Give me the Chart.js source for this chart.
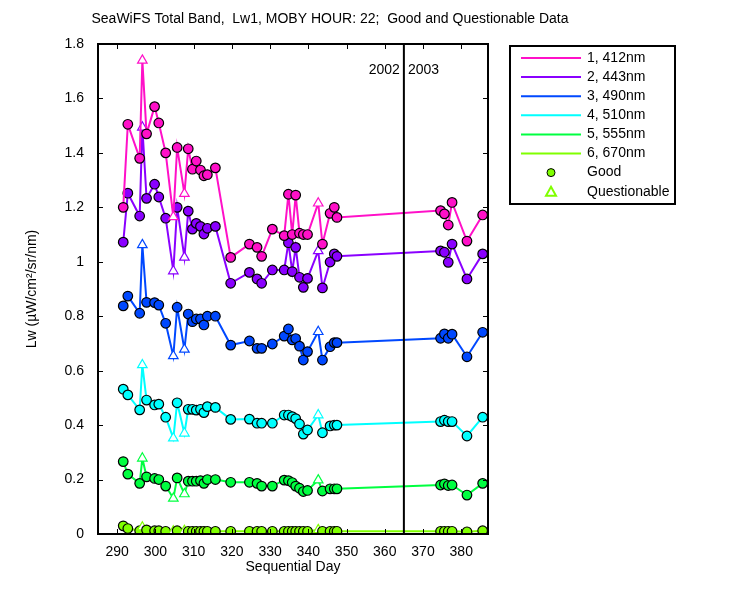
<!DOCTYPE html>
<html lang="en">
<head>
    <meta charset="UTF-8">
    <title>SeaWiFS Total Band Lw1</title>
    <script src="https://cdn.jsdelivr.net/npm/chart.js"></script>
    <style>
        body { margin: 0; background: #fff; }
        #wrap { width: 750px; height: 600px; position: relative; }
    </style>
</head>
<body>
<div id="wrap"><canvas id="lwChart"></canvas></div>
<script>
// sequential day of each sample
const days = [291.6, 292.8, 295.9, 296.6, 297.7, 299.8, 300.9, 302.7, 304.7, 305.7, 307.6, 308.6, 309.7, 310.7,
    311.8, 312.7, 313.6, 315.7, 319.7, 324.6, 326.6, 327.8, 330.6, 333.7, 334.8, 335.8, 336.7, 337.7, 338.7,
    339.8, 342.6, 343.7, 345.7, 346.8, 347.5, 374.6, 375.6, 376.6, 377.6, 381.5, 385.6];
// 1 = questionable, 0 = good
const questionable = [0, 0, 0, 1, 0, 0, 0, 0, 1, 0, 1, 0, 0, 0, 0, 0, 0, 0, 0, 0, 0, 0, 0, 0, 0, 0, 0, 0, 0,
    0, 1, 0, 0, 0, 0, 0, 0, 0, 0, 0, 0];

const lw412 = [1.20, 1.505, 1.38, 1.74, 1.47, 1.57, 1.51, 1.40, 1.165, 1.42, 1.25, 1.415, 1.34, 1.37,
    1.337, 1.316, 1.32, 1.345, 1.016, 1.065, 1.053, 1.02, 1.12, 1.096, 1.248, 1.10, 1.245, 1.105, 1.10,
    1.10, 1.215, 1.065, 1.178, 1.20, 1.163, 1.188, 1.176, 1.135, 1.218, 1.076, 1.172];
const lw443 = [1.072, 1.252, 1.168, 1.494, 1.233, 1.285, 1.238, 1.16, 0.966, 1.20, 1.016, 1.186, 1.12, 1.141,
    1.13, 1.102, 1.123, 1.13, 0.921, 0.961, 0.937, 0.921, 0.97, 0.97, 1.07, 0.964, 1.053, 0.943, 0.906,
    0.939, 1.04, 0.904, 0.999, 1.029, 1.02, 1.04, 1.035, 0.998, 1.065, 0.937, 1.029];
const lw490 = [0.838, 0.874, 0.811, 1.062, 0.851, 0.85, 0.841, 0.774, 0.654, 0.833, 0.678, 0.808, 0.78, 0.79,
    0.79, 0.768, 0.80, 0.80, 0.694, 0.709, 0.682, 0.682, 0.698, 0.727, 0.753, 0.713, 0.718, 0.69, 0.639,
    0.67, 0.743, 0.639, 0.688, 0.703, 0.703, 0.719, 0.735, 0.719, 0.734, 0.651, 0.741];
const lw510 = [0.532, 0.511, 0.456, 0.621, 0.492, 0.474, 0.477, 0.429, 0.352, 0.482, 0.37, 0.458, 0.458, 0.455,
    0.458, 0.446, 0.468, 0.465, 0.421, 0.422, 0.407, 0.407, 0.407, 0.437, 0.437, 0.431, 0.424, 0.404, 0.367,
    0.382, 0.437, 0.372, 0.397, 0.40, 0.40, 0.413, 0.418, 0.413, 0.413, 0.36, 0.429];
const lw555 = [0.266, 0.22, 0.186, 0.278, 0.21, 0.204, 0.20, 0.176, 0.131, 0.206, 0.147, 0.194, 0.194, 0.194,
    0.196, 0.186, 0.20, 0.20, 0.19, 0.19, 0.186, 0.176, 0.176, 0.198, 0.196, 0.189, 0.176, 0.168, 0.156,
    0.16, 0.198, 0.158, 0.166, 0.166, 0.166, 0.18, 0.184, 0.178, 0.18, 0.143, 0.186];
const lw670 = [0.03, 0.02, 0.012, 0.025, 0.015, 0.012, 0.012, 0.01, 0.01, 0.012, 0.012, 0.01, 0.01, 0.01,
    0.01, 0.01, 0.01, 0.01, 0.01, 0.01, 0.01, 0.01, 0.01, 0.01, 0.01, 0.01, 0.01, 0.01, 0.01,
    0.01, 0.015, 0.01, 0.01, 0.01, 0.01, 0.01, 0.01, 0.01, 0.01, 0.008, 0.012];

const bandNames = ['1, 412nm', '2, 443nm', '3, 490nm', '4, 510nm', '5, 555nm', '6, 670nm'];
const bandColors = ['#ff10c8', '#8a00ff', '#0048ff', '#00ffff', '#00ff40', '#80ff00'];
const bandValues = [lw412, lw443, lw490, lw510, lw555, lw670];
const xTicks = [290, 300, 310, 320, 330, 340, 350, 360, 370, 380];
const yTicks = [0, 0.2, 0.4, 0.6, 0.8, 1, 1.2, 1.4, 1.6, 1.8];
const yearBreak = 365;

const FONT = 'Liberation Sans, Arial, sans-serif';

const datasets = bandValues.map((vals, i) => ({
    label: bandNames[i],
    data: vals.map((v, j) => ({ x: days[j], y: v })),
    borderColor: bandColors[i],
    borderWidth: 2,
    pointStyle: questionable.map(q => q ? 'triangle' : 'circle'),
    pointRadius: questionable.map(q => q ? 5.5 : 4.8),
    pointBackgroundColor: questionable.map(q => q ? '#ffffff' : bandColors[i]),
    pointBorderColor: questionable.map(q => q ? bandColors[i] : '#000000'),
    pointBorderWidth: 1.2
}));

// frame, inward ticks, year line, title, legend
const decor = {
    id: 'decor',
    afterDatasetsDraw(chart) {
        const ctx = chart.ctx, a = chart.chartArea;
        const xs = chart.scales.x, ys = chart.scales.y;
        ctx.save();
        ctx.strokeStyle = '#000';
        ctx.lineWidth = 1;
        ctx.beginPath();
        xTicks.forEach(t => {
            const px = Math.round(xs.getPixelForValue(t)) + 0.5;
            ctx.moveTo(px, a.bottom); ctx.lineTo(px, a.bottom - 5);
            ctx.moveTo(px, a.top); ctx.lineTo(px, a.top + 5);
        });
        yTicks.forEach(t => {
            const py = Math.round(ys.getPixelForValue(t)) + 0.5;
            ctx.moveTo(a.left, py); ctx.lineTo(a.left + 5, py);
            ctx.moveTo(a.right, py); ctx.lineTo(a.right - 5, py);
        });
        ctx.stroke();

        ctx.lineWidth = 2;
        const yx = xs.getPixelForValue(yearBreak);
        ctx.beginPath();
        ctx.moveTo(yx, a.top); ctx.lineTo(yx, a.bottom);
        ctx.stroke();
        ctx.strokeRect(a.left, a.top, a.right - a.left, a.bottom - a.top);

        ctx.fillStyle = '#000';
        ctx.font = '14px ' + FONT;
        ctx.textBaseline = 'middle';
        ctx.textAlign = 'right';
        ctx.fillText('2002', yx - 4, 70);
        ctx.textAlign = 'left';
        ctx.fillText('2003', yx + 4, 70);

        ctx.textAlign = 'center';
        ctx.fillText('SeaWiFS Total Band,  Lw1, MOBY HOUR: 22;  Good and Questionable Data', 330, 19);

        // legend
        ctx.lineWidth = 2;
        ctx.strokeRect(510, 46, 165, 158);
        ctx.textAlign = 'left';
        bandNames.forEach((n, i) => {
            const y = 58 + i * 19.1;
            ctx.strokeStyle = bandColors[i];
            ctx.beginPath(); ctx.moveTo(521, y); ctx.lineTo(581, y); ctx.stroke();
            ctx.fillStyle = '#000';
            ctx.fillText(n, 587, y);
        });
        let y = 58 + 6 * 19.1;
        ctx.fillStyle = '#80ff00'; ctx.strokeStyle = '#000'; ctx.lineWidth = 1;
        ctx.beginPath(); ctx.arc(551, y, 4, 0, Math.PI * 2); ctx.fill(); ctx.stroke();
        ctx.fillStyle = '#000';
        ctx.fillText('Good', 587, y);
        y += 19.1;
        ctx.strokeStyle = '#80ff00'; ctx.lineWidth = 2;
        ctx.beginPath(); ctx.moveTo(551, y - 5); ctx.lineTo(556, y + 4); ctx.lineTo(546, y + 4); ctx.closePath(); ctx.stroke();
        ctx.fillText('Questionable', 587, y);
        ctx.restore();
    }
};

new Chart(document.getElementById('lwChart'), {
    type: 'line',
    data: { datasets },
    options: {
        responsive: true,
        maintainAspectRatio: false,
        animation: false,
        layout: { padding: { left: 20, right: 262, top: 44, bottom: 24 } },
        plugins: { legend: { display: false }, tooltip: { enabled: false } },
        scales: {
            x: {
                type: 'linear', min: 285, max: 387,
                grid: { display: false }, border: { display: false },
                afterBuildTicks: s => { s.ticks = xTicks.map(v => ({ value: v })); },
                afterFit: s => { s.height = 42; },
                ticks: { color: '#000', font: { family: FONT, size: 14 }, padding: 2, maxRotation: 0 },
                title: { display: true, text: 'Sequential Day', color: '#000', font: { family: FONT, size: 14 }, padding: 0 }
            },
            y: {
                min: 0, max: 1.8,
                grid: { display: false }, border: { display: false },
                afterBuildTicks: s => { s.ticks = yTicks.map(v => ({ value: v })); },
                afterFit: s => { s.width = 78; },
                ticks: { color: '#000', font: { family: FONT, size: 14 }, padding: 6, callback: v => String(Math.round(v * 10) / 10) },
                title: { display: true, text: 'Lw (µW/cm²/sr/nm)', color: '#000', font: { family: FONT, size: 14 }, padding: 4 }
            }
        }
    },
    plugins: [decor]
});
</script>
</body>
</html>
